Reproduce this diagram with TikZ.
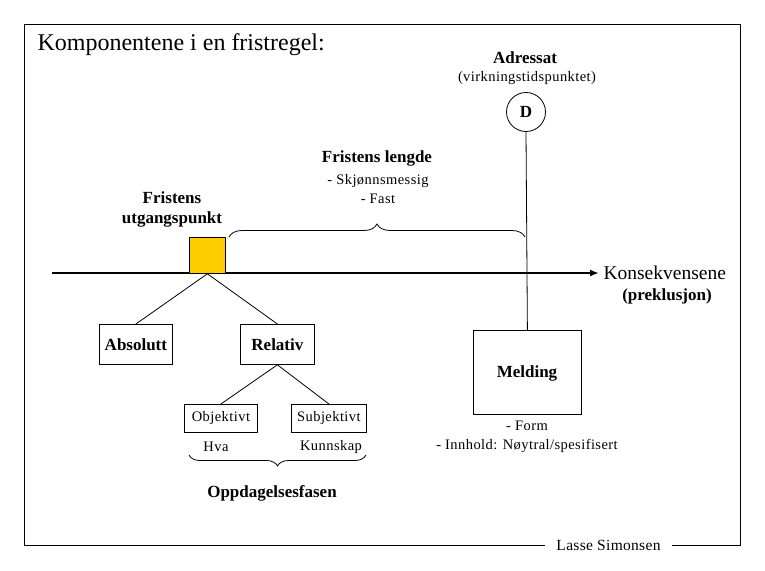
\documentclass[tikz,border=0pt]{standalone}
\usepackage{fontspec}
\setmainfont{Liberation Serif}
\usetikzlibrary{decorations.pathreplacing,arrows.meta}
\definecolor{gold}{HTML}{FFCC00}
\begin{document}
\begin{tikzpicture}[x=1pt,y=-1pt,
  thin line/.style={line width=0.8pt},
  box/.style={draw,thin line,inner sep=0pt,anchor=north west},
  boldtxt/.style={font=\fontsize{17}{20}\selectfont\bfseries,align=center},
  smalltxt/.style={font=\fontsize{14.5}{19}\selectfont\addfontfeature{LetterSpace=3},align=center},
  bracedeco/.style={thin line,decorate,decoration={brace,amplitude=13pt}}]
\useasboundingbox (0,0) rectangle (765,570);
% frame
\draw[thin line] (545,545) -- (24,545) -- (24,24) -- (740,24) -- (740,545) -- (672,545);
\node[font=\fontsize{15.5}{18}\selectfont\addfontfeature{LetterSpace=2}] (sig) at (608.5,545) {Lasse Simonsen};
% title
\node[anchor=west,font=\fontsize{24}{27}\selectfont] (title) at (34,45) {Komponentene i en fristregel:};
% Adressat
\node[boldtxt] (adr) at (525,58) {Adressat};
\node[smalltxt] (virk) at (527,78) {(virkningstidspunktet)};
\node[draw,thin line,circle,minimum size=39pt,inner sep=0pt,font=\fontsize{17}{20}\selectfont\bfseries] (D) at (526,112) {D};
% axis
\coordinate (axstart) at (52,273);
\coordinate (axend) at (599,273);
\draw[line width=2.4pt,-{Latex[length=9pt,width=7pt]}] (axstart) -- (axend);
\node[anchor=west,font=\fontsize{19.5}{22}\selectfont] (kons) at (600,273) {Konsekvensene};
\node[boldtxt] (prek) at (667,296) {(preklusjon)};
% square
\node[box,fill=gold,minimum width=36pt,minimum height=36pt] (sq) at (189,237) {};
\node[boldtxt] (utg) at (172,209) {Fristens\\utgangspunkt};
% brace length
\coordinate (b1) at (229,237);
\coordinate (b2) at (525,237);
\draw[bracedeco] (b1) -- (b2);
\node[boldtxt] (lengde) at (377,158) {Fristens lengde};
\node[smalltxt] (skj) at (378,189) {- Skj\o nnsmessig\\- Fast};
% Melding
\node[box,minimum width=108pt,minimum height=84pt] (mel) at (473,330) {};
\node[boldtxt] (meltxt) at (527,373) {Melding};
\draw[thin line] (D.south) -- (mel.north);
\node[smalltxt] (form) at (527,437) {- Form\\- Innhold: N\o ytral/spesifisert};
% tree
\node[box,minimum width=73pt,minimum height=40pt] (abs) at (99,324) {};
\node[boldtxt] at (abs.center) {Absolutt};
\node[box,minimum width=74pt,minimum height=40pt] (rel) at (240,324) {};
\node[boldtxt] at (rel.center) {Relativ};
\draw[thin line] (sq.south) -- (abs.north);
\draw[thin line] (sq.south) -- (rel.north);
\node[box,minimum width=73pt,minimum height=28pt] (obj) at (184,404) {};
\node[smalltxt] at (obj.center) {Objektivt};
\node[box,minimum width=75pt,minimum height=28pt] (sub) at (291,404) {};
\node[smalltxt] at (sub.center) {Subjektivt};
\draw[thin line] (rel.south) -- (obj.north);
\draw[thin line] (rel.south) -- (sub.north);
\node[smalltxt] (hva) at (216,447) {Hva};
\node[smalltxt] (kunn) at (331,447) {Kunnskap};
\coordinate (c1) at (366,455);
\coordinate (c2) at (189,455);
\draw[bracedeco,decoration={amplitude=11pt}] (c1) -- (c2);
\node[boldtxt] (opp) at (272,493) {Oppdagelsesfasen};
\end{tikzpicture}
\end{document}
